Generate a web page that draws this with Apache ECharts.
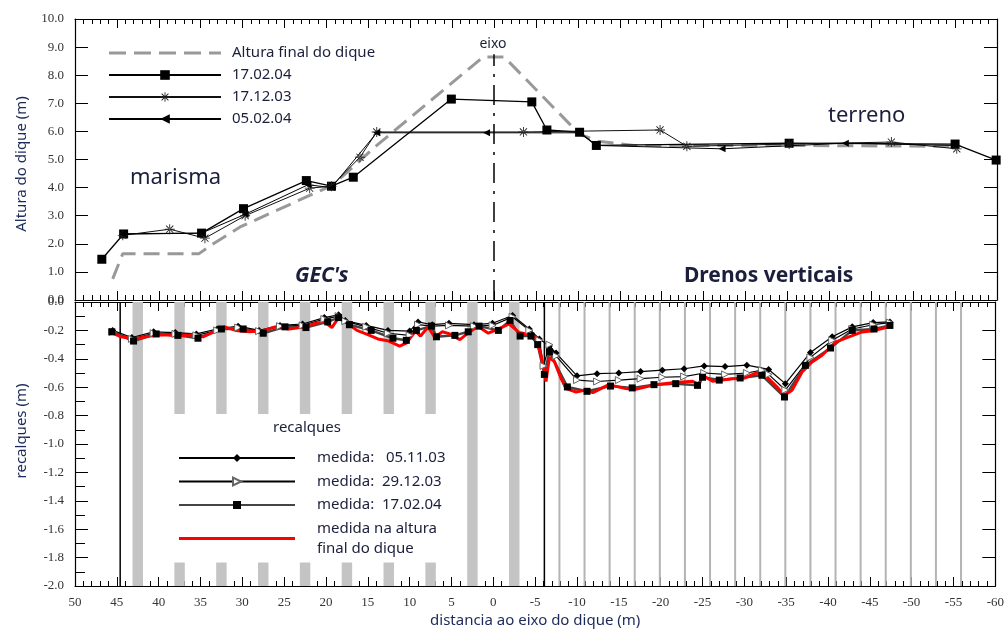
<!DOCTYPE html>
<html><head><meta charset="utf-8">
<script src="https://cdn.jsdelivr.net/npm/echarts@6/dist/echarts.min.js"></script>
<style>html,body{margin:0;padding:0;background:#fff}#c{width:1007px;height:632px}</style>
</head><body><div id="c"></div>
<script>
// ---------- DATA (distance to dike axis [m], value) ----------
// Top panel: dike height (m)
const finalHeight = [[45.5,0.75],[44.3,1.65],[35.2,1.65],[33.5,2.0],[30.3,2.6],[23.2,3.56],[19.2,4.1],[14.0,5.5],[1.3,8.65],[-1.2,8.65],[-10.2,5.9],[-12.4,5.65],[-16.7,5.5],[-35.0,5.5],[-55.2,5.47]];
const h170204 = [[46.8,1.45],[44.2,2.35],[34.9,2.38],[29.9,3.25],[22.4,4.25],[19.4,4.05],[16.8,4.37],[5.1,7.15],[-4.5,7.05],[-6.3,6.05],[-10.2,5.97],[-12.2,5.5],[-35.2,5.58],[-55.0,5.55],[-59.9,4.98]];
const h171203 = [[44.3,2.3],[38.7,2.52],[34.5,2.2],[29.7,3.0],[22.0,3.98],[19.4,4.05],[16.0,5.08],[14.0,5.98],[-3.5,5.98],[-19.8,6.05],[-23.0,5.47],[-35.2,5.55],[-47.4,5.62],[-55.2,5.38]];
const h050204 = [[44.3,2.35],[34.9,2.38],[29.7,3.05],[22.2,4.1],[19.4,4.0],[14.0,5.95],[0.9,5.95],[-10.2,5.95],[-12.2,5.5],[-27.2,5.38],[-41.9,5.58],[-55.0,5.5]];
const eixoTop = 8.75;

// Bottom panel: settlements (m)
const r051103 = [[45.5,-0.2],[43.2,-0.25],[40.6,-0.21],[38.0,-0.215],[35.5,-0.225],[33.0,-0.19],[30.5,-0.17],[28.0,-0.2],[25.5,-0.165],[22.8,-0.155],[20.2,-0.11],[18.5,-0.09],[17.7,-0.13],[15.2,-0.165],[12.6,-0.2],[10.0,-0.205],[9.0,-0.14],[7.3,-0.16],[5.3,-0.15],[2.3,-0.16],[0.1,-0.15],[-2.3,-0.095],[-4.3,-0.19],[-5.5,-0.26],[-6.7,-0.31],[-7.5,-0.36],[-10.0,-0.52],[-12.4,-0.505],[-15.0,-0.5],[-17.6,-0.49],[-20.2,-0.48],[-22.8,-0.47],[-25.2,-0.45],[-27.7,-0.455],[-30.3,-0.445],[-32.9,-0.475],[-34.9,-0.575],[-37.9,-0.355],[-40.5,-0.245],[-42.9,-0.175],[-45.4,-0.145],[-47.4,-0.14]];
const r291203 = [[45.5,-0.21],[43.2,-0.26],[40.6,-0.22],[38.0,-0.225],[35.5,-0.235],[33.0,-0.2],[30.5,-0.18],[28.0,-0.205],[25.5,-0.17],[22.8,-0.165],[20.2,-0.12],[18.5,-0.1],[17.7,-0.135],[15.2,-0.175],[12.6,-0.22],[10.0,-0.235],[9.0,-0.16],[7.3,-0.17],[5.3,-0.165],[2.3,-0.17],[0.1,-0.165],[-2.3,-0.105],[-4.3,-0.2],[-5.5,-0.27],[-6.0,-0.45],[-6.7,-0.3],[-7.5,-0.38],[-10.0,-0.55],[-12.4,-0.56],[-15.0,-0.55],[-17.6,-0.54],[-20.2,-0.53],[-22.8,-0.525],[-25.2,-0.5],[-27.7,-0.51],[-30.3,-0.5],[-32.1,-0.48],[-32.9,-0.51],[-34.9,-0.62],[-37.9,-0.39],[-40.5,-0.27],[-42.9,-0.19],[-45.4,-0.16],[-47.4,-0.145]];
const r170204 = [[45.6,-0.21],[43.0,-0.275],[40.3,-0.225],[37.7,-0.235],[35.3,-0.255],[32.5,-0.19],[29.9,-0.19],[27.5,-0.22],[24.9,-0.175],[22.4,-0.18],[19.8,-0.14],[18.5,-0.11],[17.2,-0.16],[14.6,-0.2],[12.0,-0.255],[10.4,-0.27],[9.2,-0.2],[7.4,-0.17],[6.8,-0.245],[4.6,-0.235],[3.0,-0.21],[1.7,-0.17],[-0.6,-0.2],[-2.0,-0.13],[-3.2,-0.24],[-4.5,-0.24],[-5.3,-0.3],[-6.1,-0.51],[-6.7,-0.35],[-8.85,-0.598],[-11.2,-0.629],[-14.0,-0.592],[-16.6,-0.605],[-19.2,-0.582],[-21.8,-0.575],[-24.4,-0.587],[-25.0,-0.53],[-27.0,-0.55],[-29.5,-0.535],[-32.1,-0.516],[-34.8,-0.669],[-37.3,-0.446],[-40.3,-0.324],[-42.9,-0.2],[-45.5,-0.19],[-47.4,-0.165]];
const rFinal = [[45.5,-0.22],[44.5,-0.245],[42.8,-0.26],[41.1,-0.24],[39.3,-0.23],[37.6,-0.24],[35.9,-0.23],[34.7,-0.245],[33.4,-0.21],[32.1,-0.175],[30.8,-0.2],[29.1,-0.21],[27.4,-0.2],[26.1,-0.176],[24.4,-0.19],[22.7,-0.176],[21.4,-0.152],[20.2,-0.14],[19.3,-0.18],[18.5,-0.11],[17.2,-0.16],[16.3,-0.2],[15.0,-0.23],[13.8,-0.26],[12.5,-0.275],[11.2,-0.31],[10.4,-0.29],[9.3,-0.205],[8.7,-0.24],[7.8,-0.176],[7.0,-0.25],[6.1,-0.21],[5.3,-0.223],[4.0,-0.265],[3.1,-0.223],[1.85,-0.17],[0.6,-0.22],[-0.7,-0.188],[-1.9,-0.155],[-3.1,-0.215],[-4.3,-0.23],[-5.1,-0.25],[-5.7,-0.375],[-6.3,-0.56],[-6.7,-0.39],[-7.3,-0.42],[-8.1,-0.54],[-8.7,-0.61],[-9.9,-0.634],[-11.0,-0.62],[-11.9,-0.638],[-13.8,-0.582],[-15.8,-0.61],[-17.0,-0.615],[-19.4,-0.582],[-21.4,-0.568],[-23.8,-0.558],[-24.6,-0.582],[-25.0,-0.516],[-26.2,-0.558],[-28.6,-0.54],[-30.1,-0.535],[-31.5,-0.497],[-32.9,-0.54],[-34.1,-0.61],[-34.8,-0.657],[-35.7,-0.622],[-36.9,-0.493],[-38.1,-0.422],[-39.3,-0.375],[-40.9,-0.282],[-42.5,-0.246],[-44.1,-0.211],[-45.6,-0.2],[-47.2,-0.176]];

// Columns (GEC's) centres and vertical drains positions (m)
const gecCenters = [42.5,37.5,32.5,27.5,22.5,17.5,12.5,7.5,2.5,-2.5];
const gecWidth = 1.25;
const drainX = [-7.9,-10.9,-13.9,-16.9,-19.9,-22.9,-25.9,-28.9,-31.9,-34.9,-37.9,-40.9,-43.9,-46.9,-49.9,-52.9,-55.9];
const limitX = [44.6,-6.1];

const topNames = ['Altura final do dique','17.02.04','17.12.03','05.02.04'];
const botNames = ['medida:   05.11.03','medida:  29.12.03','medida:  17.02.04','medida na altura\nfinal do dique'];

// ---------- CHART ----------
const chart = echarts.init(document.getElementById('c'));
const tickFont = {fontFamily:'"Liberation Serif", "DejaVu Serif", serif', fontSize:13, color:'#333'};
const axLine = {show:true, onZero:false, lineStyle:{color:'#000', width:1.2}};
const txtCol = '#1b1f3b';
const asterisk = 'path://M-0.7,-8L0.7,-8L0.7,8L-0.7,8Z M-8,-0.7L8,-0.7L8,0.7L-8,0.7Z M-6.2,-5.2L5.2,6.2L6.2,5.2L-5.2,-6.2Z M-6.2,5.2L-5.2,6.2L6.2,-5.2L5.2,-6.2Z';

function xAx(grid, pos, labels, extra) {
  return Object.assign({type:'value', gridIndex:grid, position:pos, min:-60, max:50, interval:5, inverse:true,
    axisLine:axLine, axisTick:{show:true, inside:true, length:9, lineStyle:{color:'#000'}},
    minorTick:{show:true, splitNumber:5, length:5, lineStyle:{color:'#000'}},
    axisLabel: labels ? Object.assign({margin:10}, tickFont) : {show:false},
    splitLine:{show:false}, minorSplitLine:{show:false}}, extra || {});
}
function yAx(grid, pos, min, max, interval, labels, extra) {
  return Object.assign({type:'value', gridIndex:grid, position:pos, min:min, max:max, interval:interval,
    axisLine:axLine, axisTick:{show:true, inside:true, length:13, lineStyle:{color:'#000'}},
    axisLabel: labels ? Object.assign({margin:11, formatter:v=>v.toFixed(1)}, tickFont) : {show:false},
    splitLine:{show:false}}, extra || {});
}
const nameStyle = {fontFamily:'Noto Sans', fontSize:15, color:'#1c2a5a'};

function vRect(params, api) {
  const c = api.value(0);
  const p1 = api.coord([c + gecWidth/2, 0]);
  const p2 = api.coord([c - gecWidth/2, -2]);
  return {type:'rect', shape:{x:Math.min(p1[0],p2[0]), y:Math.min(p1[1],p2[1]), width:Math.abs(p2[0]-p1[0]), height:Math.abs(p2[1]-p1[1])}, style:{fill:'#c4c4c4'}};
}
function vLine(color, width) {
  return function(params, api) {
    const x = api.value(0);
    const a = api.coord([x, 0]), b = api.coord([x, -2]);
    return {type:'line', shape:{x1:a[0], y1:a[1], x2:b[0], y2:b[1]}, style:{stroke:color, lineWidth:width}};
  };
}

const option = {
  animation:false,
  backgroundColor:'#fff',
  grid:[{left:75, right:10, top:19, height:281},{left:75, right:10, top:302, height:284}],
  xAxis:[xAx(0,'bottom',false), xAx(0,'top',false),
         xAx(1,'bottom',true,{name:'distancia ao eixo do dique (m)', nameLocation:'middle', nameGap:27, nameTextStyle:nameStyle}),
         xAx(1,'top',false)],
  yAxis:[
    yAx(0,'left',0,10,1,true,{name:'Altura do dique (m)', nameLocation:'middle', nameGap:46, nameTextStyle:Object.assign({padding:[0,9,0,0]},nameStyle)}),
    yAx(0,'right',0,10,1,false),
    yAx(1,'left',-2,0,0.2,true,{name:'recalques (m)', nameLocation:'middle', nameGap:46, nameTextStyle:Object.assign({padding:[0,0,0,26]},nameStyle),
      minorTick:{show:true, splitNumber:2, length:10, lineStyle:{color:'#000'}}, minorSplitLine:{show:false}}),
    yAx(1,'right',-2,0,0.2,false)
  ],
  legend:[
    {data:[{name:topNames[0], icon:'path://M0,0h17v3h-17z M25,0h17v3h-17z M50,0h17v3h-17z M75,0h17v3h-17z M100,0h12v3h-12z'}, topNames[1], topNames[2], topNames[3]],
     orient:'vertical', left:108, top:45, padding:0, itemWidth:112, itemHeight:12, itemGap:6,
     textStyle:{fontFamily:'Noto Sans', fontSize:15, color:txtCol, lineHeight:16, padding:[0,0,0,6]}},
    {data:[botNames[0], botNames[1], botNames[2], {name:botNames[3], icon:'path://M0,0h116v3h-116z'}],
     orient:'vertical', left:170, top:414, padding:[34,12,4,8], backgroundColor:'#fff', z:5,
     itemWidth:116, itemHeight:10, itemGap:3.5,
     textStyle:{fontFamily:'Noto Sans', fontSize:15, color:txtCol, lineHeight:20, padding:[0,0,0,17]}}
  ],
  graphic:[
    {type:'text', x:493, y:44, z:100, style:{text:'eixo', font:'14px "Noto Sans"', fill:txtCol, align:'center', verticalAlign:'middle'}},
    {type:'text', x:130, y:178, z:100, style:{text:'marisma', font:'22px "Noto Sans"', fill:txtCol, verticalAlign:'middle'}},
    {type:'text', x:828, y:116, z:100, style:{text:'terreno', font:'22px "Noto Sans"', fill:txtCol, verticalAlign:'middle'}},
    {type:'text', x:295, y:276, z:100, style:{text:"GEC's", font:'italic bold 21px "Noto Sans"', fill:txtCol, verticalAlign:'middle'}},
    {type:'text', x:684, y:276, z:100, style:{text:'Drenos verticais', font:'bold 21px "Noto Sans"', fill:txtCol, verticalAlign:'middle'}},
    {type:'text', x:307, y:428, z:100, style:{text:'recalques', font:'15px "Noto Sans"', fill:txtCol, align:'center', verticalAlign:'middle'}}
  ],
  series:[
    {name:topNames[0], type:'line', xAxisIndex:0, yAxisIndex:0, data:finalHeight, symbol:'none',
     lineStyle:{color:'#999', width:3, type:[16,8]}, itemStyle:{color:'#999'},
     markLine:{silent:true, symbol:['none','none'], label:{show:false}, lineStyle:{color:'#000', width:1.5, type:[20,8,3,8]},
       data:[[{coord:[0,0]},{coord:[0,eixoTop]}]]}},
    {name:topNames[1], type:'line', xAxisIndex:0, yAxisIndex:0, data:h170204, symbol:'rect', symbolSize:9,
     lineStyle:{color:'#000', width:1.3}, itemStyle:{color:'#000'}},
    {name:topNames[2], type:'line', xAxisIndex:0, yAxisIndex:0, data:h171203, symbol:asterisk, symbolSize:10,
     lineStyle:{color:'#111', width:1}, itemStyle:{color:'#222'}},
    {name:topNames[3], type:'line', xAxisIndex:0, yAxisIndex:0, data:h050204, symbol:'triangle', symbolRotate:90, symbolSize:7,
     lineStyle:{color:'#000', width:1}, itemStyle:{color:'#000'}},
    {type:'custom', xAxisIndex:2, yAxisIndex:2, data:gecCenters.map(v=>[v]), renderItem:vRect, z:1, silent:true},
    {type:'custom', xAxisIndex:2, yAxisIndex:2, data:drainX.map(v=>[v]), renderItem:vLine('#b4b4b4',2), z:1, silent:true},
    {type:'custom', xAxisIndex:2, yAxisIndex:2, data:limitX.map(v=>[v]), renderItem:vLine('#000',1.5), z:1, silent:true},
    {name:botNames[0], type:'line', xAxisIndex:2, yAxisIndex:2, data:r051103, symbol:'diamond', symbolSize:7,
     lineStyle:{color:'#000', width:1.2}, itemStyle:{color:'#000'}},
    {name:botNames[1], type:'line', xAxisIndex:2, yAxisIndex:2, data:r291203, symbol:'triangle', symbolRotate:-90, symbolSize:7,
     lineStyle:{color:'#000', width:1.2}, itemStyle:{color:'#fff', borderColor:'#666', borderWidth:1}},
    {name:botNames[2], type:'line', xAxisIndex:2, yAxisIndex:2, data:r170204, symbol:'rect', symbolSize:7,
     lineStyle:{color:'#444', width:2.5}, itemStyle:{color:'#000'}},
    {name:botNames[3], type:'line', xAxisIndex:2, yAxisIndex:2, data:rFinal, symbol:'none',
     lineStyle:{color:'#ff0000', width:3}, itemStyle:{color:'#ff0000'}}
  ]
};
chart.setOption(option);
</script></body></html>
